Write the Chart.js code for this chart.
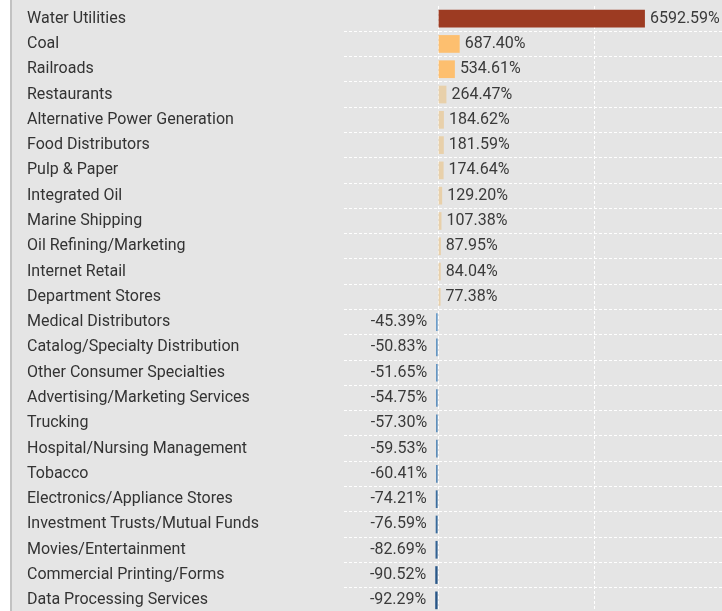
<!DOCTYPE html>
<html>
<head>
<meta charset="utf-8">
<script src="https://cdn.jsdelivr.net/npm/chart.js@4/dist/chart.umd.min.js"></script>
<style>
  html, body { margin: 0; padding: 0; background: #ffffff; }
  #wrap {
    position: absolute; left: 10px; top: 0;
    width: 710px; height: 611px;
    overflow: hidden;
    border-left: 2px solid #c2c2c2;
    background: #e5e5e5;
  }
  #perf-chart { display: block; }
</style>
</head>
<body>
<div id="wrap"><canvas id="perf-chart" width="710" height="613"></canvas></div>
<script>
var industries = [
    'Water Utilities', 'Coal', 'Railroads', 'Restaurants',
    'Alternative Power Generation', 'Food Distributors', 'Pulp & Paper',
    'Integrated Oil', 'Marine Shipping', 'Oil Refining/Marketing',
    'Internet Retail', 'Department Stores', 'Medical Distributors',
    'Catalog/Specialty Distribution', 'Other Consumer Specialties',
    'Advertising/Marketing Services', 'Trucking', 'Hospital/Nursing Management',
    'Tobacco', 'Electronics/Appliance Stores', 'Investment Trusts/Mutual Funds',
    'Movies/Entertainment', 'Commercial Printing/Forms', 'Data Processing Services'
];

var changes = [
    6592.59, 687.40, 534.61, 264.47, 184.62, 181.59, 174.64, 129.20,
    107.38, 87.95, 84.04, 77.38, -45.39, -50.83, -51.65, -54.75,
    -57.30, -59.53, -60.41, -74.21, -76.59, -82.69, -90.52, -92.29
];

var gridTicks = [0, 5000];

function mix(a, b, t) {
    var ca = [parseInt(a.substr(1, 2), 16), parseInt(a.substr(3, 2), 16), parseInt(a.substr(5, 2), 16)];
    var cb = [parseInt(b.substr(1, 2), 16), parseInt(b.substr(3, 2), 16), parseInt(b.substr(5, 2), 16)];
    var out = ca.map(function (v, i) { return Math.round(v + (cb[i] - v) * t); });
    return 'rgb(' + out.join(',') + ')';
}

// colour scale: rust for the outlier, oranges/tans for gains, blues for losses
function barColour(v) {
    if (v > 1000) return '#9d3b22';
    if (v > 500) return '#fdbf6f';
    if (v > 0) return '#e8d0aa';
    var t = Math.min(1, Math.max(0, (-v - 45) / 48));
    return mix('#5d95c7', '#275586', t);
}

var valueLabels = {
    id: 'valueLabels',
    afterDatasetsDraw: function (chart) {
        var ctx = chart.ctx;
        var meta = chart.getDatasetMeta(0);
        ctx.save();
        ctx.font = '16px Roboto';
        ctx.fillStyle = '#3a3a3a';
        ctx.textBaseline = 'middle';
        meta.data.forEach(function (bar, i) {
            var v = changes[i];
            var txt = v.toFixed(2) + '%';
            if (v >= 0) {
                ctx.textAlign = 'left';
                ctx.fillText(txt, bar.x + 5, bar.y);
            } else {
                ctx.textAlign = 'right';
                ctx.fillText(txt, bar.x - 9, bar.y);
            }
        });
        ctx.restore();
    }
};

var dashed = { color: '#ffffff', lineWidth: 1 };

new Chart(document.getElementById('perf-chart').getContext('2d'), {
    type: 'bar',
    data: {
        labels: industries,
        datasets: [{
            data: changes,
            backgroundColor: changes.map(barColour),
            borderWidth: 0,
            barPercentage: 0.7,
            categoryPercentage: 1,
            minBarLength: 2
        }]
    },
    options: {
        indexAxis: 'y',
        responsive: false,
        animation: false,
        layout: { padding: { left: 15, top: 6, right: 0, bottom: 0 } },
        plugins: {
            legend: { display: false },
            tooltip: { enabled: false }
        },
        scales: {
            x: {
                min: -3000,
                max: 9050,
                afterBuildTicks: function (scale) {
                    scale.ticks = gridTicks.map(function (v) { return { value: v }; });
                },
                afterFit: function (scale) { scale.height = 0; },
                ticks: { display: false },
                border: { display: false, dash: [3, 2] },
                grid: {
                    color: dashed.color,
                    lineWidth: dashed.lineWidth,
                    drawTicks: false
                }
            },
            y: {
                afterFit: function (scale) {
                    scale.width = 317;
                    // rows run right up to the top and bottom edges
                    scale.paddingTop = 0;
                    scale.paddingBottom = 0;
                },
                ticks: {
                    crossAlign: 'far',
                    color: '#333333',
                    font: { family: 'Roboto', size: 16 },
                    padding: 0
                },
                border: { display: false, dash: [3, 2] },
                grid: {
                    drawTicks: false,
                    lineWidth: 1,
                    color: function (c) {
                        if (c.type !== 'tick' || c.index === 0) return 'rgba(0,0,0,0)';
                        return dashed.color;
                    }
                }
            }
        }
    },
    plugins: [valueLabels]
});
</script>
</body>
</html>
